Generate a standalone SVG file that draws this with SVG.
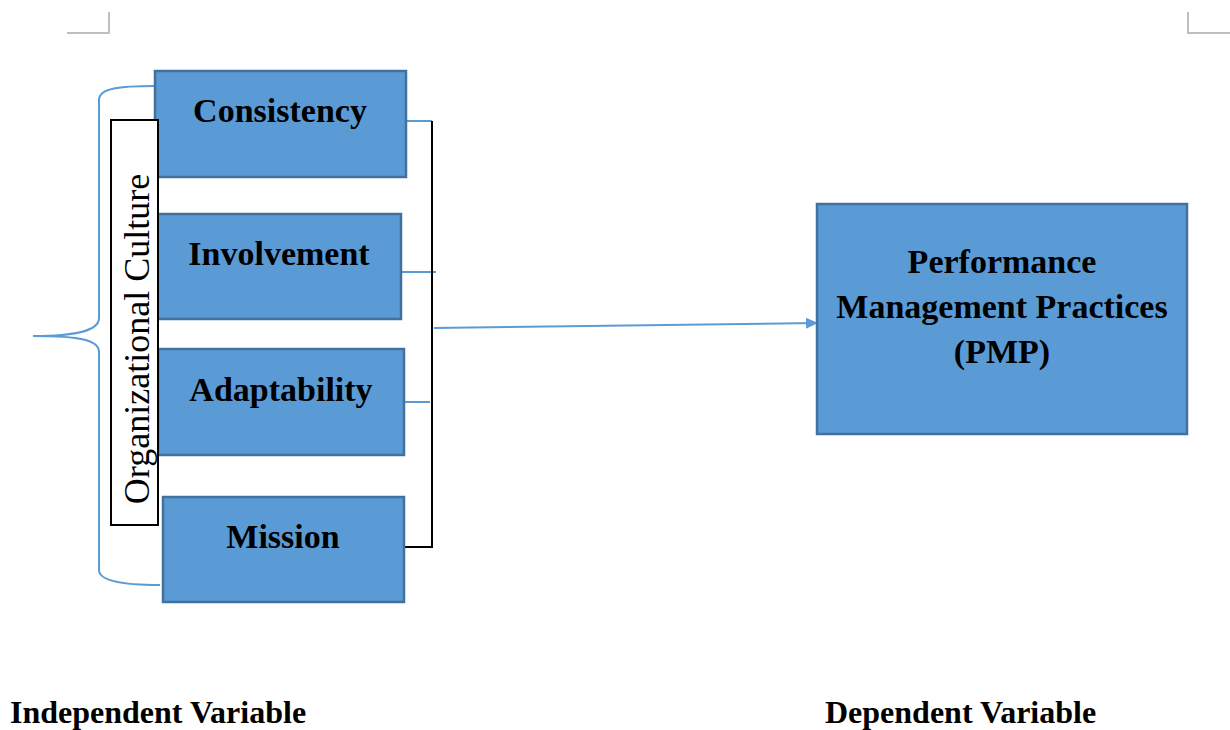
<svg xmlns="http://www.w3.org/2000/svg" width="1230" height="730" viewBox="0 0 1230 730">
<style>
.box{fill:#5B9BD5;stroke:#41719C;stroke-width:2.5}
.lbl{font-family:"Liberation Serif","Times New Roman",serif;font-weight:bold;font-size:34px;fill:#000;text-anchor:middle}
.big{font-family:"Liberation Serif","Times New Roman",serif;font-weight:bold;font-size:32px;fill:#000}
.blue{fill:none;stroke:#5B9BD5;stroke-width:2}
.blk{fill:none;stroke:#000;stroke-width:2}
.corner{fill:none;stroke:#BFBFBF;stroke-width:2}
</style>
<defs>
<marker id="ah" markerWidth="12" markerHeight="12" refX="11" refY="6" orient="auto" markerUnits="userSpaceOnUse">
<path d="M0,0.5 L12,6 L0,11.5 z" fill="#5B9BD5"/>
</marker>
</defs>
<rect width="1230" height="730" fill="#fff"/>
<g id="corners">
<path class="corner" d="M67,33 H109 V12"/>
<path class="corner" d="M1188,12 V33 H1230"/>
</g>
<g id="connectors">
<path class="blue" d="M155,86 C120,86 99,88 99,100 V318 C99,330 80,336 33,336 C80,336 99,340 99,352 V570 C99,580 120,585 160,585"/>
<path class="blue" d="M406,121 H432"/>
<path class="blue" d="M401,272 H436"/>
<path class="blue" d="M404,402 H430"/>
<path class="blk" d="M432,121 V547 H404"/>
<line x1="434" y1="328" x2="817" y2="323" stroke="#5B9BD5" stroke-width="2" marker-end="url(#ah)"/>
</g>
<g id="consistency">
<rect class="box" x="155" y="71" width="251" height="106"/>
<text class="lbl" x="280" y="122">Consistency</text>
</g>
<g id="involvement">
<rect class="box" x="157" y="214" width="244" height="105"/>
<text class="lbl" x="279" y="265">Involvement</text>
</g>
<g id="adaptability">
<rect class="box" x="158" y="349" width="246" height="106"/>
<text class="lbl" x="281" y="401">Adaptability</text>
</g>
<g id="mission">
<rect class="box" x="163" y="497" width="241" height="105"/>
<text class="lbl" x="283" y="548">Mission</text>
</g>
<g id="org-culture">
<rect x="111" y="120" width="47" height="405" fill="#fff" stroke="#000" stroke-width="2"/>
<text transform="translate(149 339) rotate(-90)" x="0" y="0" font-family="'Liberation Serif','Times New Roman',serif" font-size="36" text-anchor="middle" fill="#000">Organizational Culture</text>
</g>
<g id="pmp">
<rect class="box" x="817" y="204" width="370" height="230"/>
<text class="lbl" x="1002" y="273" font-size="33">Performance</text>
<text class="lbl" x="1002" y="318" font-size="33">Management Practices</text>
<text class="lbl" x="1002" y="363" font-size="33">(PMP)</text>
</g>
<g id="labels">
<text class="big" x="10" y="723">Independent Variable</text>
<text class="big" x="825" y="723">Dependent Variable</text>
</g>
</svg>
